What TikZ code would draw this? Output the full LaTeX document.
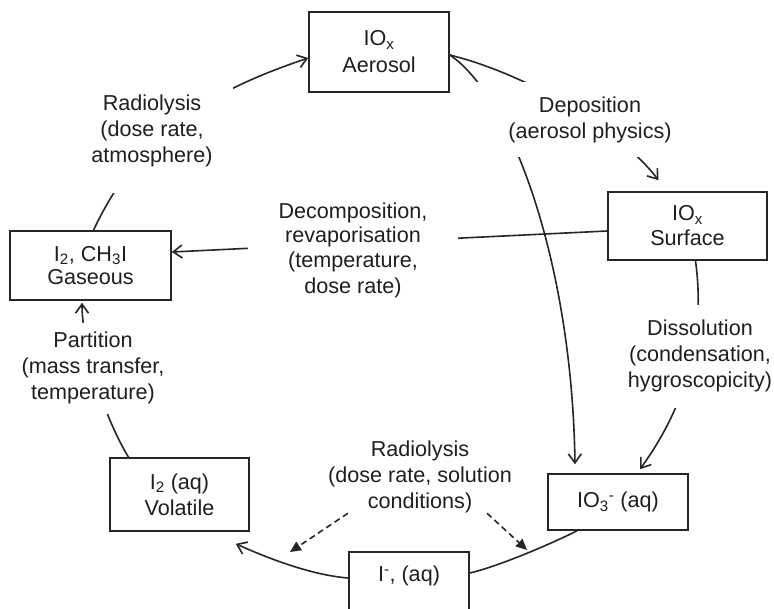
\documentclass[tikz,border=0pt]{standalone}
\usepackage{fontspec}
\setmainfont{Liberation Sans}
\usetikzlibrary{arrows.meta,backgrounds}
\begin{document}
\begin{tikzpicture}[x=1pt,y=-1pt,
  every node/.style={font=\fontsize{21.6}{26}\selectfont, text=black!88, align=center},
  species/.style={draw=black!85, line width=1.6pt, fill=white, inner sep=0pt},
  proc/.style={fill=white, inner sep=0pt},
  flow/.style={line width=1.6pt, draw=black!85},
  tip/.style={-{Straight Barb[length=9pt,width=13pt]}},
  radtip/.style={dashed, dash pattern=on 6pt off 4pt, -{Triangle[length=11pt,width=10pt]}}
]
\useasboundingbox (0,0) rectangle (774,608);

% iodine species
\node[species, minimum width=140pt, minimum height=80pt] (aer) at (379,52) {IO\textsubscript{x}\\[1pt]Aerosol};
\node[species, minimum width=161pt, minimum height=69pt] (gas) at (90.5,265.5) {I\textsubscript{2}, CH\textsubscript{3}I\\[-3pt]Gaseous};
\node[species, minimum width=159pt, minimum height=68pt] (surf) at (687.5,226) {IO\textsubscript{x}\\[-1pt]Surface};
\node[species, minimum width=139pt, minimum height=73pt] (vol) at (179.5,494.5) {I\textsubscript{2} (aq)\\Volatile};
\node[species, minimum width=140pt, minimum height=56pt] (io3) at (618,502) {IO\textsubscript{3}\textsuperscript{-} (aq)};
\node[species, minimum width=120pt, text height=30pt, text depth=59pt, anchor=north] (iaq) at (409,551) {I\textsuperscript{-}, (aq)};

% processes (white boxes hide the middle of each transfer path)
\node[proc, minimum width=162pt, minimum height=124pt] (rad1) at (152,131) {Radiolysis\\(dose rate,\\atmosphere)};
\node[proc, minimum width=230pt, minimum height=75pt] (dep) at (590,119.5) {Deposition\\(aerosol physics)};
\node[proc, minimum width=210pt, minimum height=110pt] (dec) at (353,250) {Decomposition,\\[-2pt]revaporisation\\[-1pt](temperature,\\dose rate)};
\node[proc, minimum width=150pt, minimum height=103pt] (dis) at (700,356) {Dissolution\\(condensation,\\hygroscopicity)};
\node[proc, minimum width=155pt, minimum height=91pt] (part) at (93,368) {Partition\\(mass transfer,\\temperature)};
\node[inner sep=0pt] (rad2) at (420,477) {Radiolysis\\(dose rate, solution\\conditions)};

\coordinate (dl) at (290,552);
\coordinate (dr) at (527,550);

\begin{scope}[on background layer]
  \fill[white] (0,0) rectangle (774,608);
  % gaseous -> aerosol
  \draw[flow,tip] ([xshift=3pt]gas.north) .. controls (140,131) and (212,90.5) .. ([yshift=-6pt]aer.west);
  % aerosol -> surface
  \draw[flow,tip] ([yshift=-3pt]aer.east) .. controls (530,75) and (620,130) .. ([shift={(-29pt,11pt)}]surf.north);
  % aerosol -> iodate
  \draw[flow,tip] ([yshift=-3pt]aer.east) .. controls (510,95) and (572,260) .. ([shift={(-43pt,9pt)}]io3.north);
  % surface -> gaseous
  \draw[flow,tip] ([yshift=-5pt]surf.west) -- ([yshift=13.5pt]gas.east);
  % surface -> iodate
  \draw[flow,tip] ([xshift=8pt]surf.south) .. controls (705,330) and (690,400) .. ([shift={(22pt,4pt)}]io3.north);
  % volatile -> gaseous
  \draw[flow,tip] ([xshift=-51pt]vol.north) .. controls (100,410) and (82,340) .. ([shift={(-8.5pt,-2pt)}]gas.south);
  % iodate -> iodide -> volatile
  \draw[flow] ([xshift=-41pt]io3.south) .. controls (555,542) and (500,566) .. ([yshift=-22pt]iaq.north east);
  \draw[flow,tip] ([yshift=-27pt]iaq.north west) .. controls (310,575) and (265,557) .. ([shift={(-14pt,-12pt)}]vol.south east);
\end{scope}

% radiolysis in solution
\draw[flow,radtip] ([xshift=20pt]rad2.south west) -- (dl);
\draw[flow,radtip] ([xshift=-25pt]rad2.south east) -- (dr);
\end{tikzpicture}
\end{document}
